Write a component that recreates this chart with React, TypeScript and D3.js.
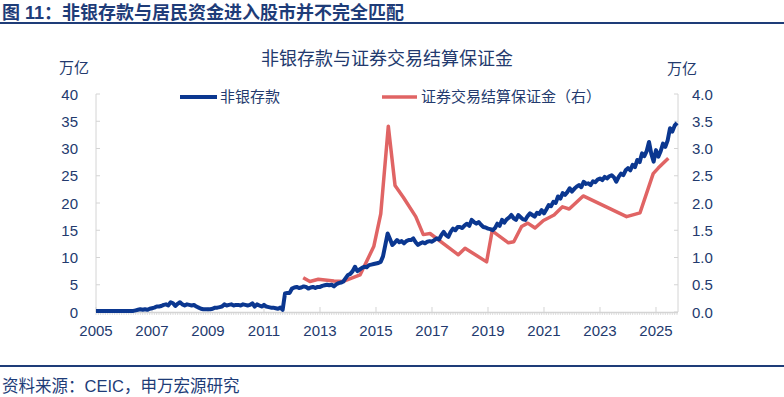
import React from "react";
import * as d3 from "d3";

const titleText = "图 11：非银存款与居民资金进入股市并不完全匹配";
const chartTitle = "非银存款与证券交易结算保证金";
const sourceText = "资料来源：CEIC，申万宏源研究";
const seriesNames = ["非银存款", "证券交易结算保证金（右）"];
const leftTicks = [0, 5, 10, 15, 20, 25, 30, 35, 40];
const rightTicks = [0, 0.5, 1, 1.5, 2, 2.5, 3, 3.5, 4];
const xTickYears = [2005, 2007, 2009, 2011, 2013, 2015, 2017, 2019, 2021, 2023, 2025];

// 非银存款 (万亿), monthly from 2005-01
const depositStartYear = 2005;
const nonBankDeposits = [
  0.2,0.2,0.2,0.2,0.2,0.2,0.2,0.2,0.2,0.2,0.2,0.2,
  0.2,0.2,0.2,0.2,0.2,0.3,0.4,0.5,0.4,0.5,0.4,0.6,
  0.7,0.8,1.0,1.0,1.1,1.3,1.4,1.2,1.8,1.6,1.1,1.5,
  1.8,1.4,1.2,1.4,1.3,1.2,1.3,1.0,0.8,0.6,0.5,0.5,
  0.5,0.5,0.6,0.8,0.8,0.9,1.0,1.4,1.2,1.3,1.4,1.2,
  1.3,1.3,1.2,1.4,1.3,1.2,1.3,1.6,1.0,1.4,1.2,1.0,
  1.3,1.0,0.9,0.8,0.8,0.7,0.6,0.8,0.4,3.4,3.5,3.5,
  4.3,4.5,4.6,4.4,4.5,4.7,4.6,4.3,4.5,4.6,4.4,4.6,
  4.6,4.8,4.9,5.0,4.9,5.0,4.7,5.1,5.3,5.4,5.6,6.2,
  6.8,7.0,7.5,8.3,7.5,7.8,8.1,8.3,8.2,8.6,8.7,8.8,
  8.9,9.0,9.2,10.2,12.3,14.4,13.4,12.3,12.7,13.2,12.8,13.0,
  12.6,13.0,13.2,13.2,13.5,12.8,12.3,12.6,12.8,12.6,12.9,13.0,
  12.9,13.2,13.5,13.3,14.1,14.7,14.1,13.8,14.7,15.3,15.0,15.6,
  15.6,15.4,15.9,16.2,15.8,16.9,16.5,16.2,16.5,16.0,15.6,15.5,
  15.3,15.2,15.0,15.4,16.2,15.8,16.9,16.4,17.0,17.3,17.8,17.2,
  16.9,17.8,17.4,17.0,16.9,17.6,18.1,17.8,17.5,18.2,18.0,18.7,
  18.1,18.8,19.6,19.4,20.2,20.0,21.2,20.8,21.8,21.5,22.0,22.7,
  22.1,22.6,23.0,23.3,22.9,23.9,23.5,23.6,23.3,24.0,23.8,24.3,
  24.5,24.2,24.8,24.5,24.9,25.1,24.7,23.9,24.8,25.4,25.1,26.0,
  26.4,26.0,27.0,26.6,27.9,27.5,29.1,28.6,29.5,31.2,29.0,27.6,
  29.7,28.5,29.5,30.9,30.3,31.5,33.7,33.1,34.2,34.7,
];

// 证券交易结算保证金 (万亿, right axis): dates as fractional years
const marginDates = [
  2012.40, 2012.64, 2012.94, 2013.50, 2013.83, 2014.43, 2014.92, 2015.17, 2015.44,
  2015.68, 2015.98, 2016.42, 2016.69, 2016.93, 2017.94, 2018.18, 2018.95, 2019.15,
  2019.73, 2019.92, 2020.20, 2020.42, 2020.68, 2020.98, 2021.36, 2021.66, 2021.90,
  2022.40, 2023.95, 2024.43, 2024.90, 2025.08, 2025.44,
];
const marginValues = [
  0.63, 0.56, 0.60, 0.57, 0.56, 0.68, 1.20, 1.80, 3.41,
  2.32, 2.10, 1.75, 1.42, 1.44, 1.05, 1.17, 0.92, 1.49,
  1.27, 1.29, 1.57, 1.63, 1.54, 1.68, 1.78, 1.93, 1.89,
  2.13, 1.75, 1.82, 2.54, 2.64, 2.82,
];

const W = 784, H = 397;
const left = 96, right = 678, top = 94, bottom = 312;
const navy = "#1e3c78";
const textColor = "#233a6e";
const blue = "#0b3790";
const red = "#e06464";
const axisGray = "#d4d4d4";
const font = "'Liberation Sans', 'Noto Sans CJK SC', sans-serif";

export default function App() {
  const x = d3.scaleLinear().domain([2005, 2025.786]).range([left, right]);
  const yL = d3.scaleLinear().domain([0, 40]).range([bottom, top]);
  const yR = d3.scaleLinear().domain([0, 4]).range([bottom, top]);

  const depData = nonBankDeposits.map((v, i) => ({ t: depositStartYear + i / 12, v }));
  const marginData = marginDates.map((t, i) => ({ t, v: marginValues[i] }));

  const depLine = d3.line<{ t: number; v: number }>().x(d => x(d.t)).y(d => yL(d.v));
  const marLine = d3.line<{ t: number; v: number }>().x(d => x(d.t)).y(d => yR(d.v));

  const monthTicks = d3.range(0, Math.floor((2025.786 - 2005) * 12) + 1).map(i => 2005 + i / 12);

  return (
    <div style={{ position: "absolute", left: 0, top: 0 }}>
      <svg width={W} height={H} style={{ display: "block", background: "#fff" }} fontFamily={font}>
        <text x={2} y={19} fontSize={18} fontWeight="bold" fill={navy}>{titleText}</text>
        <rect x={0} y={22} width={W} height={2} fill={navy} />

        <text x={387} y={65} fontSize={18} fill={textColor} textAnchor="middle">{chartTitle}</text>
        <text x={59} y={73} fontSize={15} fill={textColor}>万亿</text>
        <text x={667} y={74} fontSize={15} fill={textColor}>万亿</text>

        {/* legend */}
        <line x1={180} x2={217} y1={97} y2={97} stroke={blue} strokeWidth={4} />
        <text x={220} y={102} fontSize={15} fill={textColor}>{seriesNames[0]}</text>
        <line x1={382} x2={417} y1={97} y2={97} stroke={red} strokeWidth={3.5} />
        <text x={421} y={102} fontSize={15} fill={textColor}>{seriesNames[1]}</text>

        {/* axes */}
        <line x1={left} x2={left} y1={top} y2={bottom} stroke={axisGray} strokeWidth={1} />
        <line x1={right} x2={right} y1={top} y2={bottom} stroke={axisGray} strokeWidth={1} />
        {leftTicks.map(t => (
          <g key={"l" + t}>
            <line x1={left} x2={left + 4} y1={yL(t)} y2={yL(t)} stroke={axisGray} />
            <text x={78} y={yL(t) + 5.5} fontSize={15} fill={textColor} textAnchor="end">{t}</text>
          </g>
        ))}
        {rightTicks.map(t => (
          <g key={"r" + t}>
            <line x1={right - 4} x2={right} y1={yR(t)} y2={yR(t)} stroke={axisGray} />
            <text x={692} y={yR(t) + 5.5} fontSize={15} fill={textColor}>{t.toFixed(1)}</text>
          </g>
        ))}
        {monthTicks.map((t, i) => (
          <line key={"m" + i} x1={x(t)} x2={x(t)} y1={bottom} y2={bottom + 3} stroke={axisGray} strokeWidth={0.8} />
        ))}
        <line x1={left} x2={right} y1={bottom + 0.5} y2={bottom + 0.5} stroke={axisGray} strokeWidth={1.5} />
        {xTickYears.map(yr => (
          <g key={"x" + yr}>
            <line x1={x(yr)} x2={x(yr)} y1={bottom - 5} y2={bottom} stroke={axisGray} />
            <text x={x(yr)} y={336} fontSize={15} fill={textColor} textAnchor="middle">{yr}</text>
          </g>
        ))}

        {/* series */}
        <path d={marLine(marginData) || ""} fill="none" stroke={red} strokeWidth={3.5} strokeLinejoin="round" />
        <path d={depLine(depData) || ""} fill="none" stroke={blue} strokeWidth={4} strokeLinejoin="round" />

        <rect x={0} y={365} width={W} height={2} fill={navy} />
        <text x={2} y={392} fontSize={16.5} fill={navy}>{sourceText}</text>
      </svg>
    </div>
  );
}
